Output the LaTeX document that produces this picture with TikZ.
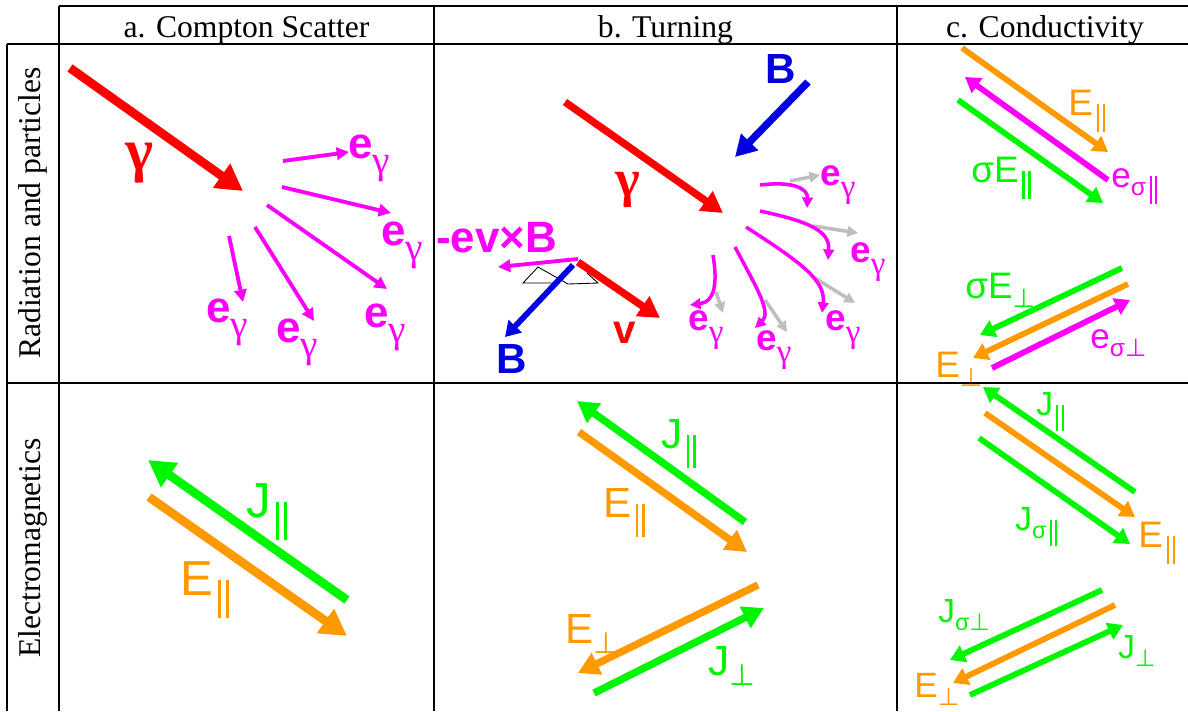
\documentclass[tikz,border=0pt]{standalone}
\usepackage{fontspec}
\setmainfont{Liberation Serif}
\setsansfont{Liberation Sans}
\newfontfamily\symfont{DejaVu Sans}
\usepackage{graphicx}
\usetikzlibrary{arrows.meta}

\definecolor{pRed}{RGB}{255,0,0}
\definecolor{pMag}{RGB}{250,0,250}
\definecolor{pGreen}{RGB}{0,245,0}
\definecolor{pOrange}{RGB}{255,153,0}
\definecolor{pBlue}{RGB}{0,0,225}
\definecolor{pGray}{RGB}{190,190,190}

% subscripts
\newcommand{\dn}[1]{\raisebox{-0.25em}{\scalebox{0.7}{#1}}}
\newcommand{\gsub}{\raisebox{-0.35em}{\scalebox{0.9}{\rmfamily\mdseries γ}}}
\newcommand{\pll}{\hspace{0.1em}\rule[-0.47em]{0.06em}{0.78em}%
  \hspace{0.1em}\rule[-0.47em]{0.06em}{0.78em}}
\newcommand{\prp}{{\symfont ⊥}}

\begin{document}
\begin{tikzpicture}[x=0.02cm, y=-0.02cm,
  grid/.style={line width=1.2pt, black},
  head/.style={font=\rmfamily\fontsize{18}{20}\selectfont, inner sep=0pt},
  lab/.style={inner sep=0pt, anchor=base west},
  labbf/.style={lab, font=\sffamily\bfseries\fontsize{#1}{#1}\selectfont},
  labrg/.style={lab, font=\sffamily\fontsize{#1}{#1}\selectfont},
  vecbig/.style={line width=5pt, -{Triangle[length=15pt,width=16pt]}},
  vecmid/.style={line width=4.2pt, -{Triangle[length=12pt,width=13pt]}},
  vecsmall/.style={line width=3.3pt, -{Triangle[length=8.5pt,width=10pt]}},
  vectiny/.style={line width=2.2pt, -{Triangle[length=7pt,width=7pt]}},
  veccurl/.style={line width=2pt, -{Triangle[length=6pt,width=6pt]}}]

\useasboundingbox (0,0) rectangle (1188,711);

% Headers
\node[head, anchor=base] (hA) at (246.5,37) {a. Compton Scatter};
\node[head, anchor=base] (hB) at (665.5,37) {b. Turning};
\node[head, anchor=base] (hC) at (1045,37) {c. Conductivity};
\node[head, rotate=90] (rA) at (33,213) {Radiation and particles};
\node[head, rotate=90] (rB) at (33,548) {Electromagnetics};

% a. Compton scatter
\draw[pRed, vecbig] (70,68) -- (243,191);
\node[pRed, font=\rmfamily\bfseries\fontsize{34}{34}\selectfont] (gamA) at (139,163) {γ};
\foreach \xa/\ya/\xb/\yb in {283/161/349/152, 282/187/391/213, 267/205/387/289,
                             255/227/314/321, 229/236/243/302}
  \draw[pMag, vectiny] (\xa,\ya) -- (\xb,\yb);
\foreach \x/\y [count=\i] in {348/158, 381/245, 364/327, 276/342, 206/322}
  \node[labbf=25, pMag] (eA\i) at (\x,\y) {e\gsub};

% b. Turning
\draw[pBlue, vecmid] (808,82) -- (735,157);
\node[labbf=24, pBlue] (bUp) at (765,83) {B};
\draw[pRed, vecmid] (565,102) -- (723,213);
\node[pRed, font=\rmfamily\bfseries\fontsize{30}{30}\selectfont] (gamB) at (628,190) {γ};

% straight (gray) vs turned (magenta) electrons
\draw[pGray, veccurl] (790,181) -- (820,175);
\draw[pGray, veccurl] (813,226) -- (858,233);
\draw[pGray, veccurl] (815,278) -- (855,303);
\draw[pGray, veccurl] (765,300) -- (787,332);
\draw[pGray, veccurl] (716,292) -- (723,313);
\draw[pMag, veccurl] (760,185) .. controls (792,181) and (808,188) .. (807,208);
\draw[pMag, veccurl] (760,211) .. controls (812,222) and (830,232) .. (828,260);
\draw[pMag, veccurl] (746,227) .. controls (800,262) and (826,280) .. (822,313);
\draw[pMag, veccurl] (735,247) .. controls (755,285) and (772,312) .. (755,328);
\draw[pMag, veccurl] (713,255) .. controls (718,285) and (714,302) .. (690,305);
\foreach \x/\y [count=\i] in {820/185, 850/262, 825/330, 756/350, 688/330}
  \node[labbf=21, pMag] (eB\i) at (\x,\y) {e\gsub};

% force on the electron
\draw[black, line width=0.5pt] (558,283) -- (523,283) -- (538,267) -- (568,284)
  -- (598,283) -- (587,273);
\draw[pMag, vectiny] (578,259) -- (498,267);
\draw[pBlue, vecsmall] (573,265) -- (505,337);
\draw[pRed, vecmid] (578,262) -- (660,318);
\node[labbf=25, pMag] (evb) at (436,252) {-ev×B};
\node[labbf=24, pBlue] (bDown) at (496,373) {B};
\node[labbf=23, pRed] (vel) at (613,343) {v};

% c. Conductivity, radiation row
\draw[pOrange, vecsmall] (962,48) -- (1108,152);
\draw[pMag, vecsmall] (1108,180) -- (965,77);
\draw[pGreen, vecsmall] (958,100) -- (1103,203);
\draw[pGreen, vecsmall] (1122,268) -- (980,335);
\draw[pOrange, vecsmall] (1128,284) -- (973,358);
\draw[pMag, vecsmall] (992,368) -- (1130,300);
\node[labrg=21, pOrange] (eParC) at (1068,115) {E\pll};
\node[labrg=20, pMag] (esParC) at (1111,187) {e\dn{σ}\pll};
\node[labrg=21, pGreen] (seParC) at (971,182) {σE\pll};
\node[labrg=21, pGreen] (sePerC) at (965,298) {σE\dn{\prp}};
\node[labrg=21, pOrange] (ePerC) at (935,377) {E\dn{\prp}};
\node[labrg=20, pMag] (esPerC) at (1090,348) {e\dn{σ\prp}};

% a. Electromagnetics
\draw[pGreen, vecbig] (347,600) -- (148,460);
\draw[pOrange, vecbig] (149,497) -- (347,636);
\node[labrg=28, pGreen] (jParA) at (246,517) {J\pll};
\node[labrg=28, pOrange] (eParA) at (180,595) {E\pll};

% b. Electromagnetics
\draw[pGreen, vecmid] (745,522) -- (577,401);
\draw[pOrange, vecmid] (579,432) -- (747,552);
\draw[pOrange, vecmid] (758,585) -- (578,673);
\draw[pGreen, vecmid] (594,693) -- (764,608);
\node[labrg=24, pGreen] (jParB) at (661,448) {J\pll};
\node[labrg=24, pOrange] (eParB) at (603,517) {E\pll};
\node[labrg=24, pOrange] (ePerB) at (565,643) {E\dn{\prp}};
\node[labrg=24, pGreen] (jPerB) at (708,675) {J\dn{\prp}};

% c. Electromagnetics
\draw[pGreen, vecsmall] (1135,492) -- (983,387);
\draw[pOrange, vecsmall] (985,413) -- (1135,517);
\draw[pGreen, vecsmall] (979,438) -- (1130,544);
\draw[pGreen, vecsmall] (1102,590) -- (950,660);
\draw[pOrange, vecsmall] (1115,605) -- (953,683);
\draw[pGreen, vecsmall] (970,695) -- (1123,625);
\node[labrg=19, pGreen] (jParC) at (1036,415) {J\pll};
\node[labrg=21, pOrange] (eParC2) at (1138,547) {E\pll};
\node[labrg=19, pGreen] (jsParC) at (1015,530) {J\dn{σ}\pll};
\node[labrg=19, pGreen] (jsPerC) at (938,622) {J\dn{σ\prp}};
\node[labrg=20, pOrange] (ePerC2) at (914,697) {E\dn{\prp}};
\node[labrg=19, pGreen] (jPerC) at (1118,658) {J\dn{\prp}};

% Table rules
\draw[grid] (59,6) -- (1188,6);
\draw[grid] (7,44) -- (1188,44);
\draw[grid] (7,383) -- (1188,383);
\draw[grid] (7,44) -- (7,711);
\foreach \x in {59,434,897}
  \draw[grid] (\x,6) -- (\x,711);
\end{tikzpicture}
\end{document}
